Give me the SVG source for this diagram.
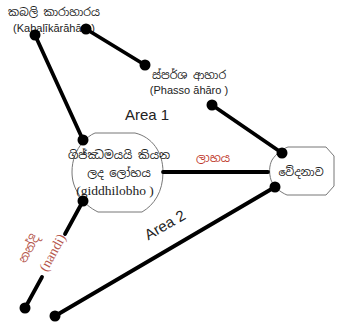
<svg xmlns="http://www.w3.org/2000/svg" width="337" height="334" viewBox="0 0 337 334">
<style>
.si{font-family:"Noto Sans Sinhala","Noto Sans","Liberation Sans",sans-serif;fill:#222;}
.sa{font-family:"Liberation Sans",Arial,sans-serif;fill:#222;}
.se{font-family:"Liberation Serif","Times New Roman",serif;fill:#222;}
.red{fill:#c0392b;}
.brn{fill:#b5564c;}
.ln{stroke:#000;stroke-width:3.8;stroke-linecap:round;fill:none;}
.node{fill:#fff;stroke:#777;stroke-width:1;}
.dot{fill:#000;}
</style>
<rect width="337" height="334" fill="#fff"/>
<g id="central-node">
<path class="node" d="M95,133 L135,133 C152,137 163,152 163,172 C163,192 154,205 142,212 L98,212 C90,208 84,203 80,196 C74,188 72,180 72,172 C72,160 76,150 83,142 C87,138 90,135 95,133 Z"/>
<text class="si" x="119" y="159" font-size="11.5" text-anchor="middle">ගිජ්ඣමයයි කියන</text>
<text class="si" x="119" y="177" font-size="11.5" text-anchor="middle">ලද ලෝභය</text>
<text class="se" x="115" y="195" font-size="13.5" text-anchor="middle">(giddhilobho )</text>
</g>
<g id="vedana-node">
<path class="node" d="M288,147 L326,147 L334,156 L334,186 L326,195 L287,195 C280,192 274,187 271,180 C269,173 269,166 272,160 C276,154 282,149 288,147 Z"/>
<text class="si" x="301" y="176" font-size="11" text-anchor="middle">වේදනාව</text>
</g>
<g id="kabalikara">
<text class="si" x="54" y="16" font-size="11" text-anchor="middle">කබලි කාරාහාරය</text>
<text class="sa" x="54" y="32" font-size="11" text-anchor="middle">(Kabaḷīkārāhāro)</text>
</g>
<g id="phasso">
<text class="si" x="189" y="79" font-size="11" text-anchor="middle">ස්පර්ශ ආහාර</text>
<text class="sa" x="189" y="94" font-size="11" text-anchor="middle">(Phasso āhāro )</text>
</g>
<g id="labels">
<text class="sa" x="147" y="120" font-size="15" text-anchor="middle">Area 1</text>
<text class="sa" font-size="15" text-anchor="middle" transform="translate(165,225) rotate(-30)" dy="5">Area 2</text>
<text class="si red" x="213" y="162" font-size="11.5" text-anchor="middle">ලාභය</text>
<text class="si brn" font-size="12" text-anchor="middle" transform="translate(29,249) rotate(-61)" dy="4">නන්දි</text>
<text class="se brn" font-size="14" text-anchor="middle" transform="translate(53,253) rotate(-61)" dy="4">(nandi)</text>
</g>
<g id="connectors">
<line class="ln" x1="35" y1="35" x2="83" y2="140"/>
<line class="ln" x1="86" y1="29" x2="145" y2="65"/>
<line class="ln" x1="212" y1="105" x2="282" y2="153"/>
<line class="ln" x1="163" y1="172" x2="268" y2="172"/>
<line class="ln" x1="275" y1="187" x2="55" y2="316"/>
<line class="ln" x1="83" y1="201" x2="65" y2="234"/>
<line class="ln" x1="42" y1="277" x2="25" y2="308"/>
<circle class="dot" cx="35" cy="35" r="5.5"/>
<circle class="dot" cx="83" cy="140" r="5.5"/>
<circle class="dot" cx="86" cy="29" r="5.5"/>
<circle class="dot" cx="145" cy="65" r="5.5"/>
<circle class="dot" cx="212" cy="105" r="5.5"/>
<circle class="dot" cx="282" cy="153" r="5.5"/>
<circle class="dot" cx="275" cy="187" r="5.5"/>
<circle class="dot" cx="55" cy="316" r="5.5"/>
<circle class="dot" cx="83" cy="201" r="5.5"/>
<circle class="dot" cx="25" cy="308" r="5.5"/>
</g>
</svg>
